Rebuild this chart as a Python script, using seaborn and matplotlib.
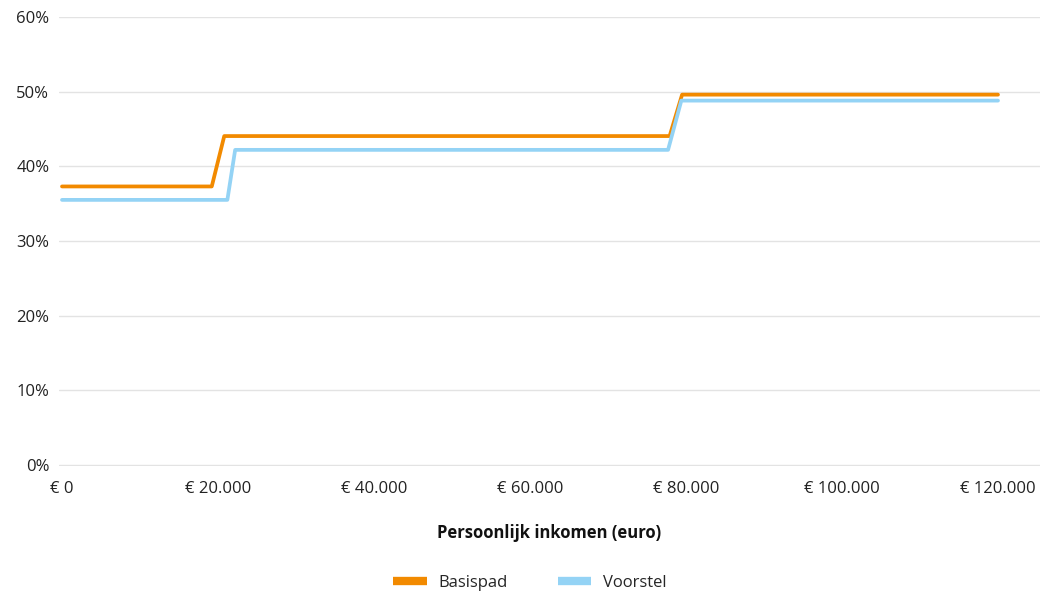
import seaborn as sns
import pandas as pd
import numpy as np
import matplotlib.pyplot as plt

# marginaal tarief per inkomen
inkomen_basis = [0, 19200, 20800, 77900, 79500, 120000]
tarief_basis = [37.3, 37.3, 44.05, 44.05, 49.6, 49.6]
inkomen_voorstel = [0, 21200, 22200, 77700, 79400, 120000]
tarief_voorstel = [35.5, 35.5, 42.2, 42.2, 48.8, 48.8]

x_ticks = [0, 20000, 40000, 60000, 80000, 100000, 120000]
x_labels = ['€ 0', '€ 20.000', '€ 40.000', '€ 60.000', '€ 80.000', '€ 100.000', '€ 120.000']
y_ticks = [0, 10, 20, 30, 40, 50, 60]

df = pd.concat([
    pd.DataFrame({'inkomen': inkomen_basis, 'tarief': tarief_basis, 'reeks': 'Basispad'}),
    pd.DataFrame({'inkomen': inkomen_voorstel, 'tarief': tarief_voorstel, 'reeks': 'Voorstel'}),
])

sns.set_theme(style='white')
plt.rcParams['font.family'] = ['Open Sans', 'DejaVu Sans']

fig = plt.figure(figsize=(10.49, 5.91), dpi=100)
ax = fig.add_axes([59 / 1049, 1 - 466 / 591, (1040 - 59) / 1049, 449 / 591])

kleuren = {'Basispad': '#F28A00', 'Voorstel': '#94D3F5'}
sns.lineplot(data=df, x='inkomen', y='tarief', hue='reeks', palette=kleuren,
             linewidth=2.7, ax=ax, legend=False, sort=False)

ax.set_xlim(-385, 125385)
ax.set_ylim(-0.15, 60)
ax.set_yticks(y_ticks)
ax.set_yticklabels([f'{v}%' for v in y_ticks], fontsize=12, color='#222222')
ax.set_xticks(x_ticks)
ax.set_xticklabels(x_labels, fontsize=12, color='#222222')
ax.tick_params(axis='x', length=0, pad=11)
ax.tick_params(axis='y', length=0, pad=7)
ax.grid(axis='y', color='#e3e3e3', linewidth=1)
ax.set_axisbelow(True)
for s in ax.spines.values():
    s.set_visible(False)

ax.set_xlabel('Persoonlijk inkomen (euro)', fontsize=12, fontweight='bold',
              color='#111111', labelpad=19)
ax.set_ylabel('')

handles = [plt.Line2D([], [], color=kleuren[k], linewidth=6, solid_capstyle='butt')
           for k in ['Basispad', 'Voorstel']]
fig.legend(handles, ['Basispad', 'Voorstel'], loc='lower center',
           bbox_to_anchor=(0.505, -0.025), ncol=2, frameon=False, fontsize=12,
           handlelength=2.0, columnspacing=3.0, handletextpad=0.7)

fig.savefig('out.png', dpi=100)
